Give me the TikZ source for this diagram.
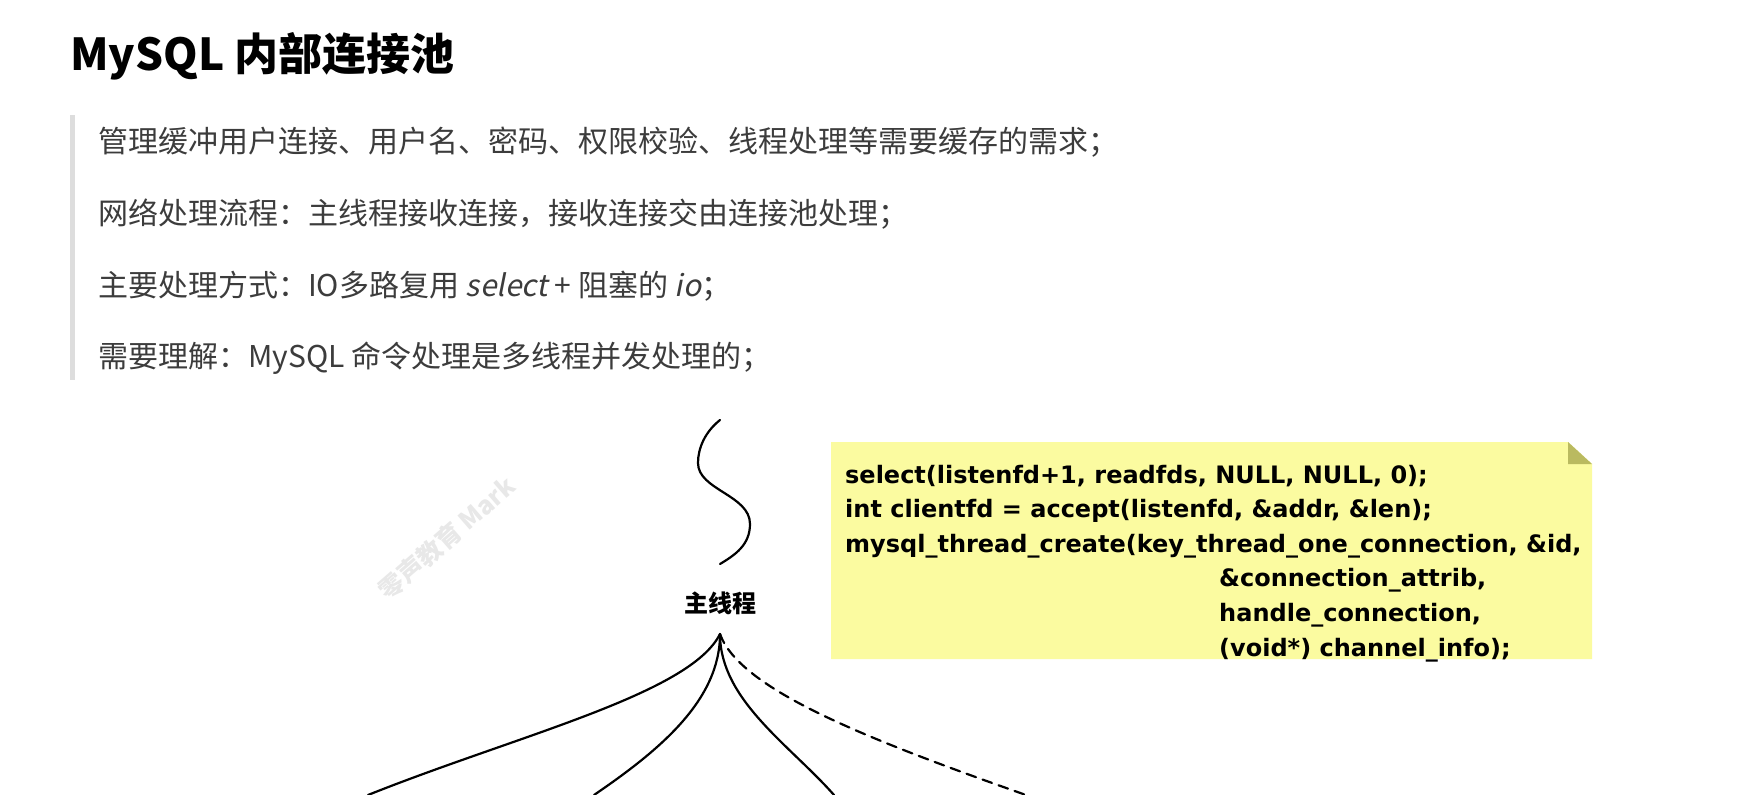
\documentclass[tikz,border=0pt]{standalone}
\usepackage{fontspec}
\setmainfont{Noto Sans CJK SC}[ItalicFont={Noto Sans CJK SC}, ItalicFeatures={FakeSlant=0.2}]
\newfontfamily\codefont{DejaVu Sans}
\definecolor{bodygray}{RGB}{60,60,60}
\definecolor{barcol}{RGB}{221,221,221}
\definecolor{notefill}{RGB}{251,251,160}
\definecolor{notefold}{RGB}{186,186,96}
\begin{document}
\begin{tikzpicture}[x=1pt,y=-1pt,
  bodytext/.style={anchor=west, inner sep=0pt, text=bodygray, font=\fontsize{30}{35}\selectfont},
  codeline/.style={anchor=base west, inner sep=0pt, font=\codefont\bfseries\fontsize{24}{30}\selectfont},
  thread/.style={line width=2.2pt, line cap=round},
  dashthread/.style={thread, dash pattern=on 10pt off 7pt}]
\fill[white] (0,0) rectangle (1749,795);
\useasboundingbox (0,0) rectangle (1749,795);
% title and text
\node[anchor=west, inner sep=0pt, font=\bfseries\fontsize{44}{50}\selectfont] (title) at (70,56) {MySQL 内部连接池};
\fill[barcol] (70,115) rectangle (75,380);
\node[bodytext] (l1) at (98,142) {管理缓冲用户连接、用户名、密码、权限校验、线程处理等需要缓存的需求；};
\node[bodytext] (l2) at (98,214) {网络处理流程：主线程接收连接，接收连接交由连接池处理；};
\node[bodytext] (l3) at (98,286) {主要处理方式：IO多路复用 \textit{select} + 阻塞的 \textit{io}；};
\node[bodytext] (l4) at (98,358) {需要理解：MySQL 命令处理是多线程并发处理的；};
% watermark
\node[rotate=41, text=gray!18, font=\bfseries\fontsize{25}{28}\selectfont] (wm) at (447,538) {零声教育 Mark};
% note
\fill[notefill] (831,442) -- (1568,442) -- (1592,464) -- (1592,659) -- (831,659) -- cycle;
\fill[notefold] (1568,442) -- (1568,464) -- (1592,464) -- cycle;
\node[codeline] (c1) at (845,483) {select(listenfd+1, readfds, NULL, NULL, 0);};
\node[codeline] (c2) at (845,517.6) {int clientfd = accept(listenfd, \&addr, \&len);};
\node[codeline] (c3) at (845,552.2) {mysql\_thread\_create(key\_thread\_one\_connection, \&id,};
\node[codeline] (c4) at (1219,586.8) {\&connection\_attrib,};
\node[codeline] (c5) at (1219,621.4) {handle\_connection,};
\node[codeline] (c6) at (1219,656) {(void*) channel\_info);};
% main thread
\node[inner sep=0pt, font=\bfseries\fontsize{24}{28}\selectfont] (mt) at (720,603) {主线程};
\draw[thread] (720,420) .. controls (705,432) and (698,448) .. (698,463)
  .. controls (698,490) and (750,495) .. (750,524)
  .. controls (750,545) and (735,555) .. (720,564);
\coordinate (apex) at (720,634);
\coordinate (e1) at (368,795);
\coordinate (e2) at (594,795);
\coordinate (e3) at (834,795);
\coordinate (e4) at (1026,795);
\begin{scope}
\clip (0,0) rectangle (1749,795);
\draw[thread] (apex) .. controls (690,694) and (518,735) .. (e1);
\draw[thread] (apex) .. controls (720,700) and (660,750) .. (e2);
\draw[thread] (apex) .. controls (720,700) and (790,745) .. (e3);
\draw[dashthread] (apex) .. controls (740,690) and (870,740) .. (e4);
\end{scope}
\end{tikzpicture}
\end{document}
